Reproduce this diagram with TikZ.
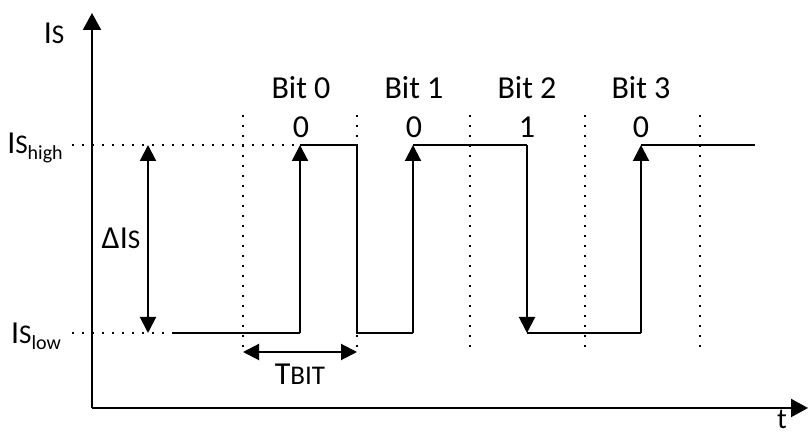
\documentclass[tikz,border=0pt]{standalone}
\usepackage{fontspec}
\setmainfont{Carlito}
\usetikzlibrary{arrows.meta}
\newcommand{\smc}[1]{{\fontsize{27}{32}\selectfont #1}}
\newcommand{\sub}[1]{\raisebox{-6pt}{\fontsize{20}{24}\selectfont #1}}

\begin{document}
\begin{tikzpicture}[x=1pt,y=1pt,
  every node/.style={font=\fontsize{32}{38}\selectfont,inner sep=0pt},
  axis/.style={line width=2.2pt,-{Triangle[width=18pt,length=17pt]}},
  sig/.style={line width=2pt},
  edg/.style={line width=2pt,-{Triangle[width=16pt,length=16pt]}},
  dbl/.style={line width=2pt,{Triangle[width=16pt,length=16pt]}-{Triangle[width=16pt,length=16pt]}},
  guide/.style={line width=2pt,dash pattern=on 2pt off 8pt}]
\useasboundingbox (0,0) rectangle (810,435);
% axes
\coordinate (O) at (92,27);
\coordinate (ytop) at (92,422);
\coordinate (xend) at (808,27);
\draw[axis] (O) -- (ytop);
\draw[axis] (O) -- (xend);
\node (ylab) at (54,402) {I\smc{S}};
\node[anchor=base,font=\fontsize{29}{34}\selectfont] (tlab) at (782,6) {t};
% levels
\node (high) at (35,287) {I\smc{S}\sub{high}};
\node (low) at (36,99) {I\smc{S}\sub{low}};
\coordinate (hd) at (72,290);
\coordinate (ld) at (72,102);
\coordinate (da) at (148,290);
\coordinate (db) at (148,102);
\draw[dbl] (da) -- (db);
\node (dIs) at (121,197) {ΔI\smc{S}};
% signal
\foreach \n/\x/\y in {0/173/102,1/300/102,2/300/290,3/357/290,4/357/102,5/413/102,
  6/413/290,7/527/290,8/527/102,9/641/102,10/641/290,11/755/290}
  \coordinate (w\n) at (\x,\y);
\draw[guide] (hd) -- (w2);
\draw[guide] (ld) -- (w0);
\draw[sig] (w0) -- (w1);
\draw[edg] (w1) -- (w2);
\draw[sig] (w2) -- (w3) -- (w4) -- (w5);
\draw[edg] (w5) -- (w6);
\draw[sig] (w6) -- (w7);
\draw[edg] (w7) -- (w8);
\draw[sig] (w8) -- (w9);
\draw[edg] (w9) -- (w10);
\draw[sig] (w10) -- (w11);
% bit slots
\foreach \i/\x in {0/243,1/357,2/470,3/585,4/700} {
  \coordinate (s\i t) at (\x,320);
  \coordinate (s\i b) at (\x,83);
  \draw[guide] (s\i t) -- (s\i b);
}
\foreach \i/\x/\v in {0/301/0,1/414/0,2/527/1,3/641/0} {
  \node (b\i) at (\x,347) {Bit \i};
  \node (v\i) at (\x,308) {\v};
}
\draw[dbl] (s0b) -- (s1b);
\node (tbit) at (300,61) {T\smc{BIT}};
\end{tikzpicture}
\end{document}
